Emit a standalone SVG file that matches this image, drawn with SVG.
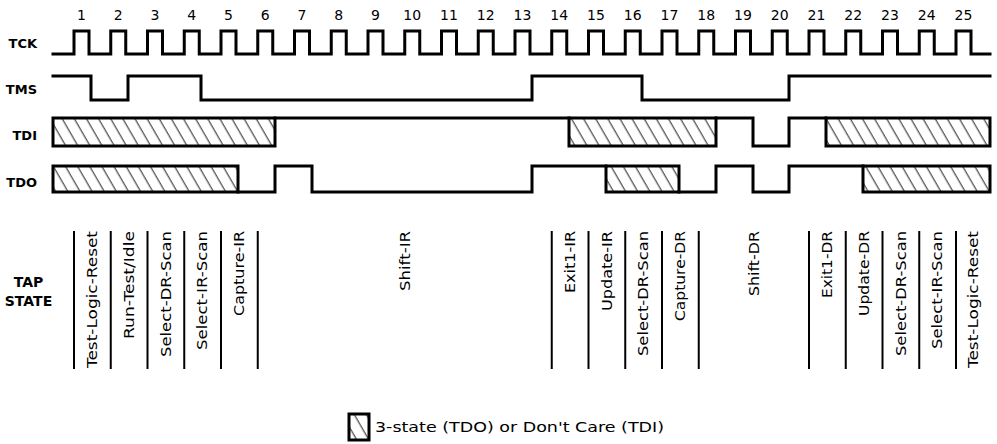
<svg xmlns="http://www.w3.org/2000/svg" width="997" height="444" viewBox="0 0 997 444">
<defs>
<pattern id="hatch" patternUnits="userSpaceOnUse" width="10.5" height="10" patternTransform="rotate(-30)">
<line x1="5" y1="-1" x2="5" y2="11" stroke="#222" stroke-width="1"/>
</pattern>
<style>
.sig{fill:none;stroke:#000;stroke-width:3;stroke-linejoin:miter;stroke-linecap:square}
.box{fill:url(#hatch);stroke:#000;stroke-width:3}
.div{stroke:#000;stroke-width:2}
.lbl{font-family:"DejaVu Sans","Liberation Sans",sans-serif;font-size:13px;font-weight:bold;fill:#000;text-anchor:end}
.num{font-family:"DejaVu Sans","Liberation Sans",sans-serif;font-size:14px;fill:#000;text-anchor:middle}
.st{font-family:"DejaVu Sans","Liberation Sans",sans-serif;font-size:14px;fill:#000;text-anchor:end}
.tap{font-family:"DejaVu Sans","Liberation Sans",sans-serif;font-size:14px;font-weight:bold;fill:#000;text-anchor:middle}
.leg{font-family:"DejaVu Sans","Liberation Sans",sans-serif;font-size:14px;fill:#000}
</style>
</defs>
<rect width="997" height="444" fill="#fff"/>

<g id="clock-numbers">
<text class="num" x="81.5" y="20">1</text>
<text class="num" x="118.25" y="20">2</text>
<text class="num" x="155" y="20">3</text>
<text class="num" x="191.75" y="20">4</text>
<text class="num" x="228.5" y="20">5</text>
<text class="num" x="265.25" y="20">6</text>
<text class="num" x="302" y="20">7</text>
<text class="num" x="338.75" y="20">8</text>
<text class="num" x="375.5" y="20">9</text>
<text class="num" x="412.25" y="20">10</text>
<text class="num" x="449" y="20">11</text>
<text class="num" x="485.75" y="20">12</text>
<text class="num" x="522.5" y="20">13</text>
<text class="num" x="559.25" y="20">14</text>
<text class="num" x="596" y="20">15</text>
<text class="num" x="632.75" y="20">16</text>
<text class="num" x="669.5" y="20">17</text>
<text class="num" x="706.25" y="20">18</text>
<text class="num" x="743" y="20">19</text>
<text class="num" x="779.75" y="20">20</text>
<text class="num" x="816.5" y="20">21</text>
<text class="num" x="853.25" y="20">22</text>
<text class="num" x="890" y="20">23</text>
<text class="num" x="926.75" y="20">24</text>
<text class="num" x="963.5" y="20">25</text>
</g>

<g id="TCK">
<text class="lbl" x="37" y="48">TCK</text>
<path class="sig" d="M53,54 H74 V31 H89 V54 H110.75 V31 H125.75 V54 H147.5 V31 H162.5 V54 H184.25 V31 H199.25 V54 H221 V31 H236 V54 H257.75 V31 H272.75 V54 H294.5 V31 H309.5 V54 H331.25 V31 H346.25 V54 H368 V31 H383 V54 H404.75 V31 H419.75 V54 H441.5 V31 H456.5 V54 H478.25 V31 H493.25 V54 H515 V31 H530 V54 H551.75 V31 H566.75 V54 H588.5 V31 H603.5 V54 H625.25 V31 H640.25 V54 H662 V31 H677 V54 H698.75 V31 H713.75 V54 H735.5 V31 H750.5 V54 H772.25 V31 H787.25 V54 H809 V31 H824 V54 H845.75 V31 H860.75 V54 H882.5 V31 H897.5 V54 H919.25 V31 H934.25 V54 H956 V31 H971 V54 H990"/>
</g>

<g id="TMS">
<text class="lbl" x="37" y="94">TMS</text>
<path class="sig" d="M53,76 H91 V100 H128 V76 H201 V100 H532 V76 H642 V100 H789 V76 H990"/>
</g>

<g id="TDI">
<text class="lbl" x="37" y="140">TDI</text>
<rect class="box" x="53" y="118" width="222" height="28"/>
<path class="sig" d="M275,118 H569"/>
<rect class="box" x="569" y="118" width="147" height="28"/>
<path class="sig" d="M716,118 H753 V146 H789 V118 H826"/>
<rect class="box" x="826" y="118" width="164" height="28"/>
</g>

<g id="TDO">
<text class="lbl" x="37" y="187">TDO</text>
<rect class="box" x="53" y="166" width="185" height="26"/>
<path class="sig" d="M238,192 H275 V166 H312 V192 H532 V166 H606"/>
<rect class="box" x="606" y="166" width="73" height="26"/>
<path class="sig" d="M679,192 H716 V166 H753 V192 H789 V166 H863"/>
<rect class="box" x="863" y="166" width="127" height="26"/>
</g>

<g id="tap-state-title">
<text class="tap" x="28.5" y="287">TAP</text>
<text class="tap" x="28.5" y="306">STATE</text>
</g>

<g id="connectors">
<line class="div" x1="74" y1="231" x2="74" y2="369"/>
<line class="div" x1="110.75" y1="231" x2="110.75" y2="369"/>
<line class="div" x1="147.5" y1="231" x2="147.5" y2="369"/>
<line class="div" x1="184.25" y1="231" x2="184.25" y2="369"/>
<line class="div" x1="221" y1="231" x2="221" y2="369"/>
<line class="div" x1="257.75" y1="231" x2="257.75" y2="369"/>
<line class="div" x1="551.75" y1="231" x2="551.75" y2="369"/>
<line class="div" x1="588.5" y1="231" x2="588.5" y2="369"/>
<line class="div" x1="625.25" y1="231" x2="625.25" y2="369"/>
<line class="div" x1="662" y1="231" x2="662" y2="369"/>
<line class="div" x1="698.75" y1="231" x2="698.75" y2="369"/>
<line class="div" x1="809" y1="231" x2="809" y2="369"/>
<line class="div" x1="845.75" y1="231" x2="845.75" y2="369"/>
<line class="div" x1="882.5" y1="231" x2="882.5" y2="369"/>
<line class="div" x1="919.25" y1="231" x2="919.25" y2="369"/>
<line class="div" x1="956" y1="231" x2="956" y2="369"/>
</g>

<g id="state-1"><text class="st" transform="translate(97,231) rotate(-90)" textLength="137" lengthAdjust="spacingAndGlyphs">Test-Logic-Reset</text></g>
<g id="state-2"><text class="st" transform="translate(133.75,231) rotate(-90)" textLength="108" lengthAdjust="spacingAndGlyphs">Run-Test/Idle</text></g>
<g id="state-3"><text class="st" transform="translate(170.5,231) rotate(-90)" textLength="126" lengthAdjust="spacingAndGlyphs">Select-DR-Scan</text></g>
<g id="state-4"><text class="st" transform="translate(207.25,231) rotate(-90)" textLength="119" lengthAdjust="spacingAndGlyphs">Select-IR-Scan</text></g>
<g id="state-5"><text class="st" transform="translate(244,231) rotate(-90)" textLength="85" lengthAdjust="spacingAndGlyphs">Capture-IR</text></g>
<g id="state-shift-ir"><text class="st" transform="translate(410,231) rotate(-90)" textLength="60" lengthAdjust="spacingAndGlyphs">Shift-IR</text></g>
<g id="state-14"><text class="st" transform="translate(574.75,231) rotate(-90)" textLength="62" lengthAdjust="spacingAndGlyphs">Exit1-IR</text></g>
<g id="state-15"><text class="st" transform="translate(611.5,231) rotate(-90)" textLength="80" lengthAdjust="spacingAndGlyphs">Update-IR</text></g>
<g id="state-16"><text class="st" transform="translate(648.25,231) rotate(-90)" textLength="125" lengthAdjust="spacingAndGlyphs">Select-DR-Scan</text></g>
<g id="state-17"><text class="st" transform="translate(685,231) rotate(-90)" textLength="90" lengthAdjust="spacingAndGlyphs">Capture-DR</text></g>
<g id="state-shift-dr"><text class="st" transform="translate(759,231) rotate(-90)" textLength="65" lengthAdjust="spacingAndGlyphs">Shift-DR</text></g>
<g id="state-21"><text class="st" transform="translate(832,231) rotate(-90)" textLength="67" lengthAdjust="spacingAndGlyphs">Exit1-DR</text></g>
<g id="state-22"><text class="st" transform="translate(868.75,231) rotate(-90)" textLength="85" lengthAdjust="spacingAndGlyphs">Update-DR</text></g>
<g id="state-23"><text class="st" transform="translate(905.5,231) rotate(-90)" textLength="125" lengthAdjust="spacingAndGlyphs">Select-DR-Scan</text></g>
<g id="state-24"><text class="st" transform="translate(942.25,231) rotate(-90)" textLength="118" lengthAdjust="spacingAndGlyphs">Select-IR-Scan</text></g>
<g id="state-25"><text class="st" transform="translate(978,231) rotate(-90)" textLength="137" lengthAdjust="spacingAndGlyphs">Test-Logic-Reset</text></g>

<g id="legend">
<rect class="box" x="349" y="414" width="20" height="26"/>
<text class="leg" x="375" y="432" textLength="289" lengthAdjust="spacingAndGlyphs">3-state (TDO) or Don't Care (TDI)</text>
</g>
</svg>
